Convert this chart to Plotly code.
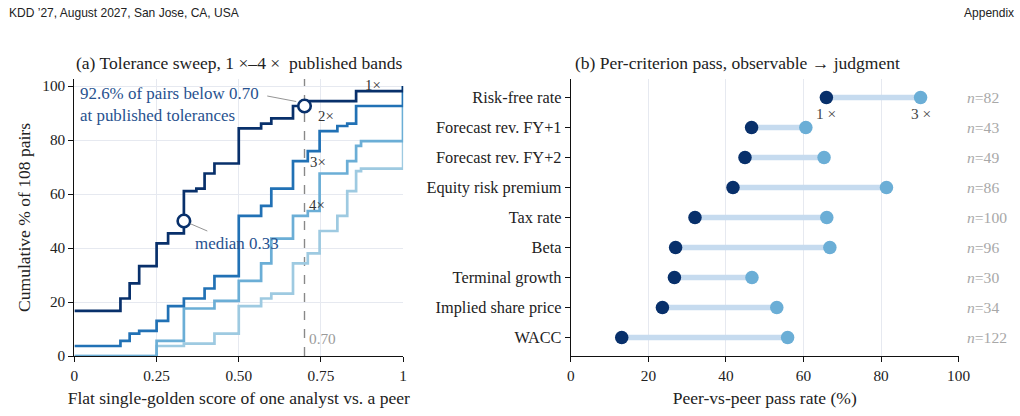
import plotly.graph_objects as go

# ---------------- data: panel (a) cumulative curves ----------------
tol_names = ["1×", "2×", "3×", "4×"]
x_1x = [0, 0.14, 0.168, 0.197, 0.25, 0.285, 0.333, 0.371, 0.396, 0.426, 0.5, 0.568, 0.599, 0.665, 0.70, 0.857, 1.0]
y_1x = [16.7, 21.3, 26.9, 33.3, 41.7, 45.4, 61.1, 62.0, 67.6, 71.3, 84.3, 86.1, 88.0, 92.6, 94.4, 98.1, 100]
x_2x = [0, 0.14, 0.168, 0.197, 0.25, 0.285, 0.333, 0.396, 0.426, 0.5, 0.568, 0.599, 0.665, 0.71, 0.746, 0.80, 0.83, 0.857, 1.0]
y_2x = [3.7, 5.6, 8.3, 9.3, 13.0, 18.5, 21.3, 25.0, 29.6, 51.9, 55.6, 62.0, 72.2, 75.9, 83.3, 85.2, 86.1, 92.6, 100]
x_3x = [0, 0.25, 0.333, 0.426, 0.5, 0.568, 0.599, 0.665, 0.71, 0.746, 0.83, 0.857, 0.872, 1.0]
y_3x = [0, 5.6, 17.6, 20.4, 27.8, 34.3, 43.5, 51.9, 53.7, 67.6, 72.2, 77.8, 79.6, 100]
x_4x = [0, 0.25, 0.333, 0.426, 0.5, 0.568, 0.599, 0.665, 0.71, 0.746, 0.80, 0.83, 0.857, 0.872, 1.0]
y_4x = [0, 3.7, 4.6, 8.3, 18.5, 21.3, 23.1, 34.3, 38.0, 46.3, 51.9, 61.1, 68.5, 69.4, 100]
median_pt = (0.333, 50.0)
below_pt = (0.70, 92.6)
x_ticks_a = [0, 0.25, 0.5, 0.75, 1]
x_ticktext_a = ["0", "0.25", "0.50", "0.75", "1"]
y_ticks_a = [0, 20, 40, 60, 80, 100]

# ---------------- data: panel (b) dumbbells ----------------
criteria = ["Risk-free rate", "Forecast rev. FY+1", "Forecast rev. FY+2", "Equity risk premium",
            "Tax rate", "Beta", "Terminal growth", "Implied share price", "WACC"]
pass_1x = [65.9, 46.6, 44.9, 41.8, 32.0, 27.0, 26.7, 23.6, 13.1]
pass_3x = [90.2, 60.6, 65.3, 81.4, 66.0, 66.8, 46.7, 53.1, 55.9]
n_pairs = [82, 43, 49, 86, 100, 96, 30, 34, 122]
x_ticks_b = [0, 20, 40, 60, 80, 100]

# ---------------- style ----------------
W, H = 1020, 416          # target picture size (layout fractions are based on it)
RW, RH = 1035, 425        # rendered size (compensates capture scaling)
FS = 1.02                 # font compensation
DX = -2.5                 # horizontal offset compensation (px)
SERIF = "Liberation Serif"
SANS = "Liberation Sans"
NAVY = "#08306b"
COLS = ["#08306b", "#2171b5", "#6baed6", "#9ecae1"]
ANN_BLUE = "#28528f"
GRID = "#e6e9f0"


def px_x(p):
    return (p + DX) / W


def px_y(p):
    return 1 - p / H


def f(size, color="#222", family=SERIF):
    return dict(family=family, size=size * FS, color=color)


fig = go.Figure()

curves = [(x_1x, y_1x), (x_2x, y_2x), (x_3x, y_3x), (x_4x, y_4x)]
for i in [3, 2, 1, 0]:
    xs, ys = curves[i]
    fig.add_trace(go.Scatter(x=xs, y=ys, mode="lines", line=dict(shape="hv", color=COLS[i], width=2.7),
                             name=tol_names[i], xaxis="x", yaxis="y", hoverinfo="skip", cliponaxis=False))

fig.add_trace(go.Scatter(x=[median_pt[0], below_pt[0]], y=[median_pt[1], below_pt[1]], mode="markers",
                         marker=dict(size=12.5, color="white", line=dict(color=NAVY, width=2.6)),
                         xaxis="x", yaxis="y", hoverinfo="skip", cliponaxis=False))

# dumbbells
lx, ly = [], []
for c, a, b in zip(criteria, pass_1x, pass_3x):
    lx += [a, b, None]
    ly += [c, c, None]
fig.add_trace(go.Scatter(x=lx, y=ly, mode="lines", line=dict(color="#c6dbef", width=5.5),
                         xaxis="x2", yaxis="y2", hoverinfo="skip"))
fig.add_trace(go.Scatter(x=pass_1x, y=criteria, mode="markers", marker=dict(size=13.5, color=NAVY),
                         xaxis="x2", yaxis="y2", hoverinfo="skip"))
fig.add_trace(go.Scatter(x=pass_3x, y=criteria, mode="markers", marker=dict(size=13.5, color="#6baed6"),
                         xaxis="x2", yaxis="y2", hoverinfo="skip"))

tickfont = f(15)
axis_common = dict(zeroline=False, showline=True, linecolor="#111", linewidth=1.3,
                   ticks="outside", ticklen=5, tickcolor="#111")
ydom = [px_y(355), px_y(78)]
fig.update_layout(
    width=RW, height=RH, margin=dict(l=0, r=0, t=0, b=0, pad=0),
    paper_bgcolor="white", plot_bgcolor="white", showlegend=False,
    font=f(14),
    xaxis=dict(domain=[px_x(73), px_x(402)], range=[0, 1], tickvals=x_ticks_a, ticktext=x_ticktext_a,
               showgrid=True, gridcolor=GRID, gridwidth=1, anchor="y", tickfont=tickfont,
               title=dict(text="Flat single-golden score of one analyst vs. a peer", font=f(17.2), standoff=9),
               **axis_common),
    yaxis=dict(domain=ydom, range=[0, 102.6], tickvals=y_ticks_a,
               showgrid=True, gridcolor=GRID, gridwidth=1, anchor="x", tickfont=tickfont,
               title=dict(text="Cumulative % of 108 pairs", font=f(17.2), standoff=7),
               **axis_common),
    xaxis2=dict(domain=[px_x(570), px_x(958)], range=[0, 100], tickvals=x_ticks_b,
                showgrid=True, gridcolor=GRID, gridwidth=1, anchor="y2", tickfont=tickfont,
                title=dict(text="Peer-vs-peer pass rate (%)", font=f(17.2), standoff=9),
                **axis_common),
    yaxis2=dict(domain=ydom, range=[8.62, -0.62], type="category", categoryorder="array", categoryarray=criteria,
                showgrid=False, anchor="x2", tickfont=f(16), **axis_common),
)

shapes = [
    dict(type="line", xref="x", yref="y domain", x0=0.70, x1=0.70, y0=0, y1=1,
         line=dict(color="#888", width=1.4, dash="dash"), layer="below"),
    dict(type="line", xref="paper", yref="paper", x0=px_x(266), y0=px_y(95), x1=px_x(295), y1=px_y(100.5),
         line=dict(color="#888", width=0.9)),
    dict(type="line", xref="paper", yref="paper", x0=px_x(188.5), y0=px_y(222.5), x1=px_x(206), y1=px_y(230),
         line=dict(color="#888", width=0.9)),
]
fig.update_layout(shapes=shapes)

ann = []


def add_text(text, x, y, font, xanchor="center", yanchor="middle", align="center"):
    ann.append(dict(text=text, xref="paper", yref="paper", x=px_x(x), y=px_y(y), xanchor=xanchor,
                    yanchor=yanchor, align=align, showarrow=False, font=font, borderpad=0))


add_text("KDD ’27, August 2027, San Jose, CA, USA", 7, 12, f(11.8, family=SANS), xanchor="left")
add_text("Appendix", 1014, 12, f(11.8, family=SANS), xanchor="right")
add_text("(a) Tolerance sweep, 1 ×–4 ×  published bands", 238, 62, f(17.2))
add_text("(b) Per-criterion pass, observable → judgment", 737, 62, f(17.2))
# curve labels
for lab, xx, yy in [("1×", 372, 84), ("2×", 325, 115), ("3×", 317, 161), ("4×", 316, 204)]:
    add_text(lab, xx, yy, f(14.5, "#333"))
add_text("92.6% of pairs below 0.70<br>at published tolerances", 78, 103, f(16.6, ANN_BLUE),
         xanchor="left", align="left")
add_text("median 0.33", 193, 242, f(16.6, ANN_BLUE), xanchor="left")
add_text("0.70", 307, 337, f(15, "#9a9a9a"), xanchor="left")
# panel (b) labels
ann.append(dict(text="1 ×", xref="x2", yref="y2", x=pass_1x[0], y=criteria[0], yshift=-16, showarrow=False,
                font=f(15, "#444")))
ann.append(dict(text="3 ×", xref="x2", yref="y2", x=pass_3x[0], y=criteria[0], yshift=-16, showarrow=False,
                font=f(15, "#444")))
for c, n in zip(criteria, n_pairs):
    ann.append(dict(text=f"<i>n</i>={n}", xref="paper", yref="y2", x=px_x(965), y=c, xanchor="left",
                    yanchor="middle", showarrow=False, borderpad=0, font=f(15.3, "#a8a8a8")))
fig.update_layout(annotations=ann)

post = "document.documentElement.style.margin='0';document.body.style.margin='0';"
fig.write_html("out.html", config={"displayModeBar": False}, post_script=post)
